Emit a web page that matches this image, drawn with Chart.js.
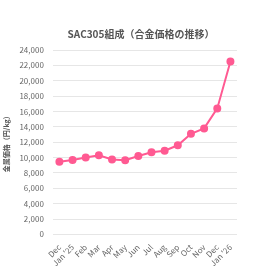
<!DOCTYPE html>
<html><head><meta charset="utf-8">
<script src="https://cdn.jsdelivr.net/npm/chart.js@4"></script>
<style>html,body{margin:0;padding:0;background:#fff}#w{width:280px;height:280px}</style>
</head><body><div id="w"><canvas id="c" width="280" height="280"></canvas></div>
<script>
const categories = ["Dec", "Jan '25", "Feb", "Mar", "Apr", "May", "Jun", "Jul", "Aug", "Sep", "Oct", "Nov", "Dec", "Jan '26"];
const prices = [9450, 9700, 10000, 10300, 9750, 9650, 10200, 10700, 10900, 11600, 13100, 13800, 16400, 22500];
const yMax = 24000;
const yStep = 2000;
const titleText = "SAC305組成（合金価格の推移）";
const yTitle = "金属価格（円/kg）";
const fam = "'Noto Sans CJK JP','Noto Sans',sans-serif";
const titlePlugin = {
  id: 'centerTitle',
  afterDraw(chart) {
    const ctx = chart.ctx;
    ctx.save();
    ctx.font = "bold 10px " + fam;
    ctx.fillStyle = '#555';
    ctx.textAlign = 'center';
    ctx.textBaseline = 'middle';
    ctx.fillText(titleText, 141, 34);
    ctx.restore();
  }
};
new Chart(document.getElementById('c'), {
  type: 'line',
  data: { labels: categories, datasets: [{
    data: prices, borderColor: '#ff5a92', backgroundColor: '#ff5a92',
    borderWidth: 2, pointRadius: 3, pointHoverRadius: 3, tension: 0
  }]},
  plugins: [titlePlugin],
  options: {
    responsive: false, animation: false,
    layout: { padding: { top: 50, left: 2, right: 43, bottom: 12 } },
    plugins: {
      legend: { display: false },
      tooltip: { enabled: false },
      title: { display: false }
    },
    scales: {
      x: { offset: true, grid: { display: false }, border: { display: false },
        ticks: { color: '#666', font: { family: fam, size: 8 }, maxRotation: 45, minRotation: 45, autoSkip: false, padding: 0 } },
      y: { min: 0, max: yMax, border: { display: false },
        grid: { color: '#e6e6e6', lineWidth: 1, drawTicks: false },
        title: { display: true, text: yTitle, color: '#555', font: { family: fam, size: 7, weight: 'bold' }, padding: 0 },
        ticks: { stepSize: yStep, color: '#666', font: { family: fam, size: 8 }, padding: 9,
          callback: v => v.toLocaleString('en-US') } }
    }
  }
});
</script></body></html>
